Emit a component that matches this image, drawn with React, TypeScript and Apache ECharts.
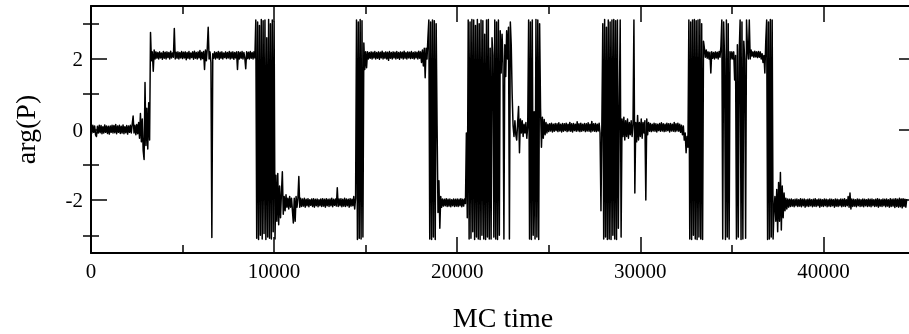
import React, { useEffect, useRef } from "react";
import * as echarts from "echarts";

const xAxisName = "MC time";
const yAxisName = "arg(P)";
const xMin = 0;
const xMax = 45000;
const xTickStep = 10000;
const yMin = -3.5;
const yMax = 3.5;
const yMajorTicks = [-2, 0, 2];
const yMinorTicks = [-3, -1, 1, 3];

// arg(P): one value every 50 MC-time units, in blocks of 2500 units
const sampleStep = 50;
const blockSpan = 2500;
const b00 = [0.08, -0.1, 0.12, -0.08, 0.1, -0.15, -0.2, 0.09, -0.1, 0.12,
  -0.09, 0.11, -0.12, 0.08, -0.1, 0.13, -0.08, 0.1, -0.11, 0.09,
  -0.13, 0.1, -0.08, 0.12, -0.1, 0.11, -0.09, 0.14, -0.12, 0.1,
  -0.08, 0.12, -0.11, 0.09, -0.1, 0.13, -0.12, 0.08, -0.09, 0.11,
  -0.13, 0.1, -0.08, 0.12, -0.1, 0.15, 0.38, -0.1, 0.12, -0.15];
const b01 = [0.14, -0.12, 0.2, -0.25, 0.45, -0.35, 0.3, -0.6, -0.85, 1.33,
  -0.45, 0.6, -0.55, 0.76, -0.3, 2.75, 1.95, 2.2, 1.65, 2.25,
  2.0, 2.2, 2.02, 2.18, 2.0, 2.2, 2.03, 2.17, 1.99, 2.21,
  2.02, 2.19, 2.0, 2.2, 2.04, 2.18, 2.0, 2.22, 2.03, 2.17,
  2.05, 2.86, 2.0, 2.19, 2.02, 2.2, 2.0, 2.18, 2.03, 2.21];
const b02 = [2.01, 2.19, 2.03, 2.2, 1.98, 2.18, 2.02, 2.21, 2.0, 2.17,
  2.04, 2.2, 1.99, 2.22, 2.02, 2.18, 2.0, 2.2, 2.03, 2.24,
  1.98, 2.19, 2.01, 2.21, 1.7, 2.25, 1.95, 2.3, 2.9, 2.0,
  2.2, 1.9, -3.06, 2.15, 2.02, 2.2, 2.0, 2.18, 2.03, 2.21,
  1.99, 2.19, 2.02, 2.2, 2.0, 2.17, 2.04, 2.2, 2.01, 2.18];
const b03 = [2.03, 2.21, 2.0, 2.19, 2.02, 2.2, 1.99, 2.18, 2.03, 2.2,
  1.7, 2.2, 2.0, 2.19, 2.02, 2.21, 2.0, 2.18, 2.03, 1.72,
  2.2, 2.01, 2.19, 2.0, 2.21, 2.02, 2.18, 2.0, 2.2, 2.03,
  3.1, -3.08, 3.05, -3.12, 2.95, -3.0, 3.12, -3.1, 3.08, -2.95,
  3.1, -3.12, 2.6, -3.05, 3.12, -3.08, 3.0, -3.1, 3.1, -2.9];
const b04 = [3.05, -3.1, -1.3, -2.6, -1.25, -2.7, -1.6, -2.5, -1.8, -1.2,
  -2.4, -1.9, -2.3, -1.85, -2.2, -1.95, -2.25, -1.9, -2.2, -1.95,
  -2.3, -2.65, -1.95, -2.6, -1.9, -2.2, -1.95, -1.33, -2.2, -1.95,
  -2.18, -1.97, -2.17, -1.95, -2.2, -1.98, -2.16, -1.96, -2.19, -1.99,
  -2.15, -1.97, -2.18, -1.96, -2.2, -1.98, -2.16, -1.97, -2.19, -1.99];
const b05 = [-2.16, -1.97, -2.18, -1.96, -2.17, -1.98, -2.2, -1.96, -2.16, -1.98,
  -2.18, -1.97, -2.16, -1.95, -2.19, -1.98, -2.15, -1.97, -2.17, -1.65,
  -2.18, -1.97, -2.16, -1.96, -2.19, -1.98, -2.17, -1.95, -2.18, -1.97,
  -2.16, -1.98, -2.2, -1.96, -2.17, -1.98, -2.16, -1.9, -2.25, -1.95,
  3.1, -3.12, 3.05, -3.08, 3.12, -3.1, 3.08, -3.05, 2.45, 1.7];
const b06 = [2.2, 1.75, 2.2, 2.0, 2.18, 2.02, 2.2, 2.0, 2.19, 2.03,
  2.21, 2.0, 2.18, 2.02, 2.2, 1.99, 2.19, 2.03, 2.22, 2.0,
  2.18, 2.02, 2.2, 2.0, 2.19, 1.96, 2.21, 2.02, 2.18, 2.0,
  2.2, 2.03, 2.19, 2.0, 2.21, 2.02, 2.18, 1.99, 2.2, 2.03,
  2.19, 2.0, 2.22, 2.02, 2.18, 2.0, 2.2, 2.03, 2.19, 2.01];
const b07 = [2.21, 2.02, 2.18, 2.0, 2.2, 2.03, 2.19, 2.0, 2.22, 2.02,
  2.2, 1.9, 2.25, 1.8, 2.3, 1.47, 2.3, 2.0, 2.6, 3.1,
  -3.1, 3.05, -3.12, 3.1, -3.05, 3.08, -3.12, 3.0, 0.1, -2.35,
  -1.45, -2.8, -1.9, -2.2, -1.97, -2.17, -1.98, -2.16, -1.96, -2.18,
  -1.98, -2.17, -1.97, -2.19, -1.99, -2.16, -1.97, -2.18, -1.98, -2.17];
const b08 = [-1.97, -2.18, -1.98, -2.16, -1.96, -2.19, -1.98, -2.17, -1.97, -2.1,
  -0.1, -2.5, 3.1, -3.1, 3.05, -3.08, 3.12, -2.9, 3.1, -3.12,
  2.95, -3.05, 3.12, -3.1, 3.0, -3.12, 3.1, -3.0, 3.08, -3.1,
  2.7, -3.12, 3.1, -3.05, 3.12, -3.1, 2.3, -3.1, 2.6, 2.1,
  -3.05, 3.1, -3.1, 3.05, -3.12, 3.1, -3.0, 2.8, 1.6, 2.7];
const b09 = [1.9, -3.1, 2.4, 1.5, 2.8, 2.0, 2.9, -3.1, 3.05, 2.4,
  1.0, 0.1, -0.2, 0.25, -0.15, -0.3, 0.2, 0.65, -0.66, 0.3,
  -0.1, 0.25, -0.2, 0.15, -0.1, 0.2, -0.25, 0.1, 3.1, -3.1,
  3.05, -3.12, 3.1, -3.0, 0.5, -3.1, 3.12, -3.05, 3.1, -3.12,
  3.0, 0.6, -0.5, 0.35, -0.25, 0.28, -0.15, 0.2, -0.1, 0.15];
const b10 = [-0.06, 0.16, -0.04, 0.18, -0.07, 0.15, -0.05, 0.17, -0.03, 0.16,
  -0.06, 0.19, -0.04, 0.15, -0.07, 0.17, -0.05, 0.16, -0.03, 0.18,
  -0.06, 0.15, -0.04, 0.2, -0.05, 0.16, -0.07, 0.17, -0.03, 0.15,
  -0.05, 0.22, -0.04, 0.16, -0.06, 0.18, -0.05, 0.15, -0.03, 0.17,
  -0.06, 0.16, -0.04, 0.19, -0.05, 0.15, -0.07, 0.23, -0.04, 0.16];
const b11 = [-0.05, 0.17, -0.06, 0.15, -0.04, 0.18, -0.1, -2.3, 0.2, 3.0,
  -3.1, 3.12, -3.05, 2.9, -3.12, 3.1, -3.1, 3.05, -3.12, 3.1,
  -3.0, 3.12, -3.1, 3.08, -3.12, 3.1, -2.8, 0.5, 3.1, -3.05,
  0.3, -0.2, 0.35, -0.3, 0.25, -0.2, 0.3, -0.25, 0.2, -0.15,
  0.25, -0.2, 0.15, 3.1, -1.8, 0.2, -0.35, 0.4, -0.3, 0.2];
const b12 = [-0.2, 0.3, -0.25, 0.2, -0.1, 0.25, -2.0, 0.3, -0.15, 0.2,
  -0.05, 0.17, -0.06, 0.15, -0.04, 0.18, -0.05, 0.16, -0.07, 0.15,
  -0.03, 0.17, -0.05, 0.19, -0.04, 0.16, -0.06, 0.15, -0.05, 0.18,
  -0.03, 0.16, -0.07, 0.17, -0.04, 0.15, -0.05, 0.2, -0.06, 0.16,
  -0.04, 0.18, -0.05, 0.15, -0.08, 0.12, -0.15, 0.1, -0.3, -0.1];
const b13 = [-0.66, -0.2, -0.5, 3.1, -3.1, 3.05, -3.12, 3.1, -3.0, 3.12,
  -3.1, 3.08, -3.12, 3.1, -3.05, 3.12, -3.1, 3.0, -3.12, 2.5,
  2.3, 2.05, 2.25, 2.02, 2.2, 2.0, 2.19, 1.6, 2.2, 2.02,
  2.18, 2.0, 2.2, 2.03, 2.19, 2.0, 2.21, 2.05, 2.35, 3.1,
  -3.1, 3.05, 2.0, -3.12, 3.1, -3.05, 3.0, -3.1, 2.2, 2.0];
const b14 = [2.2, 2.0, 2.2, 1.4, 2.1, -3.1, 2.4, -3.05, 2.2, 3.1,
  -3.12, 3.05, -3.1, 2.5, 2.0, -3.08, 3.1, 2.3, 2.0, 3.1,
  2.0, 2.25, 2.08, 2.2, 2.05, 2.22, 2.06, 2.2, 2.04, 2.21,
  2.05, 2.2, 2.0, 2.15, 1.9, 2.1, 1.6, 2.5, 3.1, -3.12,
  3.05, -3.1, 3.12, -3.05, 3.1, -3.1, -2.3, -1.9, -2.6, -1.7];
const b15 = [-2.9, -1.5, -2.6, -1.22, -2.85, -1.6, -2.5, -1.8, -2.3, -1.95,
  -2.25, -1.97, -2.2, -1.98, -2.18, -1.97, -2.17, -1.99, -2.19, -1.98,
  -2.16, -1.97, -2.18, -1.99, -2.17, -1.96, -2.19, -1.98, -2.16, -1.97,
  -2.2, -1.99, -2.17, -1.98, -2.18, -1.97, -2.16, -1.99, -2.19, -1.98,
  -2.17, -1.96, -2.18, -1.99, -2.16, -1.97, -2.2, -1.98, -2.17, -1.99];
const b16 = [-2.18, -1.97, -2.16, -1.98, -2.19, -1.99, -2.17, -1.97, -2.18, -1.98,
  -2.16, -1.99, -2.2, -1.97, -2.17, -1.98, -2.18, -1.99, -2.16, -1.97,
  -2.19, -1.98, -2.17, -1.96, -2.18, -1.99, -2.16, -1.9, -2.2, -1.8,
  -2.25, -1.97, -2.18, -1.98, -2.17, -1.99, -2.19, -1.97, -2.16, -1.98,
  -2.18, -1.99, -2.17, -1.97, -2.19, -1.98, -2.16, -1.99, -2.18, -1.97];
const b17 = [-2.17, -1.98, -2.19, -1.97, -2.16, -1.99, -2.18, -1.98, -2.17, -1.96,
  -2.2, -1.98, -2.17, -1.99, -2.18, -1.97, -2.16, -1.98, -2.19, -1.97,
  -2.17, -1.99, -2.2, -1.96, -2.18, -1.98, -2.17, -1.97, -2.21, -1.96,
  -2.18, -1.98, -2.2, -1.95, -2.19, -1.97, -2.22, -1.96, -2.18, -1.98,
  -2.2, -1.97];

const blocks = [b00, b01, b02, b03, b04, b05, b06, b07, b08, b09, b10, b11, b12, b13, b14, b15, b16, b17];

const FONT = "'Liberation Serif', 'Times New Roman', serif";

export default function App() {
  const ref = useRef<HTMLDivElement>(null);
  useEffect(() => {
    document.body.style.margin = "0";
    if (!ref.current) return;
    const chart = echarts.init(ref.current, null, { renderer: "svg" });
    const data: number[][] = [];
    blocks.forEach((vals, k) => {
      vals.forEach((v, i) => data.push([k * blockSpan + i * sampleStep, v]));
    });
    const line = { show: true, onZero: false, lineStyle: { color: "#000", width: 2 } };
    const tickStyle = { color: "#000", width: 1.5 };
    const xCommon = {
      type: "value" as const,
      min: xMin,
      max: xMax,
      interval: xTickStep,
      axisLine: line,
      axisTick: { show: true, inside: true, length: 16, lineStyle: tickStyle },
      minorTick: { show: true, splitNumber: 2, length: 8, lineStyle: tickStyle },
      splitLine: { show: false },
      minorSplitLine: { show: false },
    };
    const yMajor = (pos: "left" | "right", labels: boolean) => ({
      type: "value" as const,
      min: yMin,
      max: yMax,
      position: pos,
      axisLine: { ...line, show: true },
      axisTick: { show: true, inside: true, length: 16, lineStyle: tickStyle, customValues: yMajorTicks },
      axisLabel: labels
        ? { show: true, customValues: yMajorTicks, color: "#000", fontFamily: FONT, fontSize: 21, margin: 8 }
        : { show: false },
      splitLine: { show: false },
    });
    const yMinor = (pos: "left" | "right") => ({
      type: "value" as const,
      min: yMin,
      max: yMax,
      position: pos,
      axisLine: { show: false },
      axisTick: { show: true, inside: true, length: 8, lineStyle: tickStyle, customValues: yMinorTicks },
      axisLabel: { show: false },
      splitLine: { show: false },
    });
    chart.setOption({
      animation: false,
      grid: { left: 91, top: 6, width: 824, height: 247, containLabel: false, outerBoundsMode: "none" },
      xAxis: [
        {
          ...xCommon,
          position: "bottom",
          axisLabel: {
            color: "#000",
            fontFamily: FONT,
            fontSize: 21,
            margin: 7,
            showMaxLabel: false,
            formatter: (v: number) => String(v),
          },
          name: xAxisName,
          nameLocation: "middle",
          nameGap: 50,
          nameTextStyle: { color: "#000", fontFamily: FONT, fontSize: 28 },
        },
        { ...xCommon, position: "top", axisLabel: { show: false } },
      ],
      yAxis: [
        {
          ...yMajor("left", true),
          name: yAxisName,
          nameLocation: "middle",
          nameRotate: 90,
          nameGap: 52,
          nameTextStyle: { color: "#000", fontFamily: FONT, fontSize: 28 },
        },
        yMinor("left"),
        yMajor("right", false),
        yMinor("right"),
      ],
      series: [
        {
          type: "line",
          data,
          xAxisIndex: 0,
          yAxisIndex: 0,
          showSymbol: false,
          symbol: "none",
          lineStyle: { color: "#000", width: 1.5, join: "round" },
          clip: true,
        },
      ],
    });
    return () => chart.dispose();
  }, []);
  return <div ref={ref} style={{ position: "fixed", left: 0, top: 0, width: 909, height: 334 }} />;
}
